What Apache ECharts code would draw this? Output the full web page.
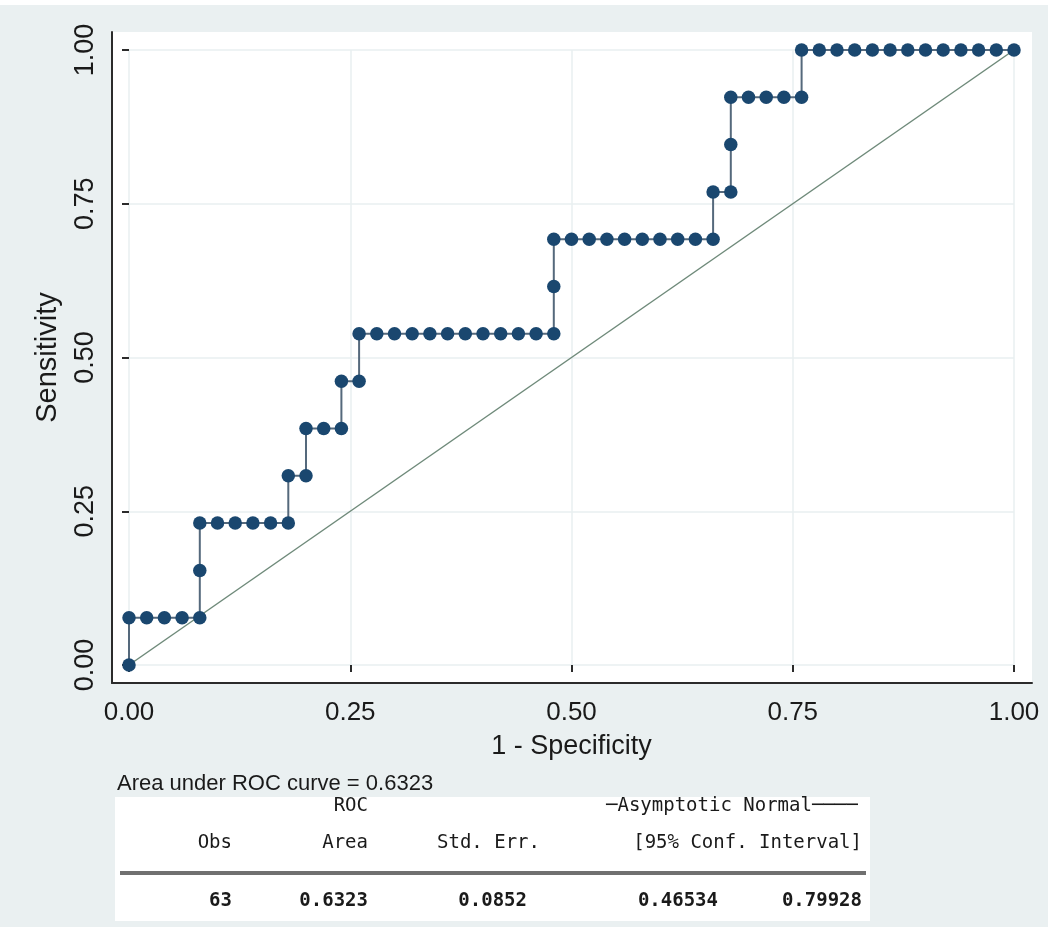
<!DOCTYPE html>
<html>
<head>
<meta charset="utf-8">
<script src="https://cdn.jsdelivr.net/npm/echarts@6/dist/echarts.min.js"></script>
<style>
  html, body { margin: 0; padding: 0; background: #eaf0f1; }
  #chart { width: 1048px; height: 927px; }
</style>
</head>
<body>
<div id="chart"></div>
<script>
// ---- data ----
const fpr = [0.00, 0.00, 0.02, 0.04, 0.06, 0.08, 0.08, 0.08, 0.10, 0.12, 0.14, 0.16, 0.18, 0.18, 0.20, 0.20,
             0.22, 0.24, 0.24, 0.26, 0.26, 0.28, 0.30, 0.32, 0.34, 0.36, 0.38, 0.40, 0.42, 0.44, 0.46, 0.48,
             0.48, 0.48, 0.50, 0.52, 0.54, 0.56, 0.58, 0.60, 0.62, 0.64, 0.66, 0.66, 0.68, 0.68, 0.68, 0.70,
             0.72, 0.74, 0.76, 0.76, 0.78, 0.80, 0.82, 0.84, 0.86, 0.88, 0.90, 0.92, 0.94, 0.96, 0.98, 1.00];
const tpr = [0.0000, 0.0769, 0.0769, 0.0769, 0.0769, 0.0769, 0.1538, 0.2308, 0.2308, 0.2308, 0.2308, 0.2308, 0.2308, 0.3077, 0.3077, 0.3846,
             0.3846, 0.3846, 0.4615, 0.4615, 0.5385, 0.5385, 0.5385, 0.5385, 0.5385, 0.5385, 0.5385, 0.5385, 0.5385, 0.5385, 0.5385, 0.5385,
             0.6154, 0.6923, 0.6923, 0.6923, 0.6923, 0.6923, 0.6923, 0.6923, 0.6923, 0.6923, 0.6923, 0.7692, 0.7692, 0.8462, 0.9231, 0.9231,
             0.9231, 0.9231, 0.9231, 1.0000, 1.0000, 1.0000, 1.0000, 1.0000, 1.0000, 1.0000, 1.0000, 1.0000, 1.0000, 1.0000, 1.0000, 1.0000];
const refX = [0, 1];
const refY = [0, 1];
const xTitle = '1 - Specificity';
const yTitle = 'Sensitivity';
const aucLabel = 'Area under ROC curve = 0.6323';
const headerTop = ['ROC', '─Asymptotic Normal────'];
const headerBottom = ['Obs', 'Area', 'Std. Err.', '[95% Conf. Interval]'];
const tableValues = ['63', '0.6323', '0.0852', '0.46534', '0.79928'];

// ---- chart ----
const chart = echarts.init(document.getElementById('chart'), null, { renderer: 'canvas' });
const SANS = '"Liberation Sans", Arial, Helvetica, sans-serif';
const MONO = '"DejaVu Sans Mono", "Liberation Mono", monospace';
const AX = '#2b2b2b';
const GRIDC = '#e9eff0';

const curve = fpr.map((x, i) => [x, tpr[i]]);
const ref = refX.map((x, i) => [x, refY[i]]);

const hdrStyle = { font: '19px ' + MONO, fill: '#1a1a1a' };
const valStyle = { font: 'bold 19px ' + MONO, fill: '#1a1a1a' };

chart.setOption({
  backgroundColor: '#eaf0f1',
  animation: false,
  grid: [
    { left: 129, right: 34, top: 50, bottom: 262 },
    { left: 112, right: 16, top: 32, bottom: 244, show: true, backgroundColor: '#ffffff', borderWidth: 0, z: 0 }
  ],
  xAxis: [
    {
      gridIndex: 0, type: 'value', min: 0, max: 1, interval: 0.25, offset: 18,
      axisLine: { show: false },
      axisTick: { show: true, length: 7, lineStyle: { color: AX, width: 2 } },
      axisLabel: { fontFamily: SANS, fontSize: 26, color: '#1a1a1a', margin: 17,
                   formatter: v => v.toFixed(2) },
      splitLine: { show: true, lineStyle: { color: GRIDC, width: 1.5 } },
      name: xTitle, nameLocation: 'middle', nameGap: 50,
      nameTextStyle: { fontFamily: SANS, fontSize: 27, color: '#1a1a1a' }
    },
    {
      gridIndex: 1, type: 'value', min: 0, max: 1,
      axisLine: { show: true, onZero: false, lineStyle: { color: AX, width: 2 } },
      axisTick: { show: false }, axisLabel: { show: false }, splitLine: { show: false }
    }
  ],
  yAxis: [
    {
      gridIndex: 0, type: 'value', min: 0, max: 1, interval: 0.25, offset: 17,
      axisLine: { show: false },
      axisTick: { show: true, length: 7, lineStyle: { color: AX, width: 2 } },
      axisLabel: { fontFamily: SANS, fontSize: 27, color: '#1a1a1a', margin: 13, rotate: 90,
                   formatter: v => v.toFixed(2) },
      splitLine: { show: true, lineStyle: { color: GRIDC, width: 1.5 } },
      name: yTitle, nameLocation: 'middle', nameGap: 50, nameRotate: 90,
      nameTextStyle: { fontFamily: SANS, fontSize: 29, color: '#1a1a1a' }
    },
    {
      gridIndex: 1, type: 'value', min: 0, max: 1,
      axisLine: { show: true, onZero: false, lineStyle: { color: AX, width: 2 } },
      axisTick: { show: false }, axisLabel: { show: false }, splitLine: { show: false }
    }
  ],
  series: [
    {
      type: 'line', xAxisIndex: 0, yAxisIndex: 0, data: ref, showSymbol: false, symbol: 'none',
      lineStyle: { color: '#6f8a7a', width: 1.5 }, z: 2
    },
    {
      type: 'line', xAxisIndex: 0, yAxisIndex: 0, data: curve,
      symbol: 'circle', symbolSize: 13.5, showAllSymbol: true,
      itemStyle: { color: '#1a476f' },
      lineStyle: { color: '#55697c', width: 2 }, z: 3
    }
  ],
  graphic: [
    { type: 'rect', left: 0, top: 0, shape: { width: 1048, height: 5 }, style: { fill: '#ffffff' }, silent: true },
    { type: 'text', left: 117, top: 773, style: { text: aucLabel, font: '22px "Liberation Sans", Arial, sans-serif', fill: '#1a1a1a' } },
    { type: 'rect', left: 115, top: 797, shape: { width: 755, height: 124 }, style: { fill: '#ffffff' }, silent: true },
    { type: 'text', x: 368, y: 806, style: Object.assign({ text: headerTop[0], align: 'right', verticalAlign: 'middle' }, hdrStyle) },
    { type: 'text', x: 606, y: 806, style: Object.assign({ text: headerTop[1], align: 'left', verticalAlign: 'middle' }, hdrStyle) },
    { type: 'text', x: 232, y: 843, style: Object.assign({ text: headerBottom[0], align: 'right', verticalAlign: 'middle' }, hdrStyle) },
    { type: 'text', x: 368, y: 843, style: Object.assign({ text: headerBottom[1], align: 'right', verticalAlign: 'middle' }, hdrStyle) },
    { type: 'text', x: 540, y: 843, style: Object.assign({ text: headerBottom[2], align: 'right', verticalAlign: 'middle' }, hdrStyle) },
    { type: 'text', x: 862, y: 843, style: Object.assign({ text: headerBottom[3], align: 'right', verticalAlign: 'middle' }, hdrStyle) },
    { type: 'line', shape: { x1: 120, y1: 873, x2: 866, y2: 873 }, style: { stroke: '#707070', lineWidth: 4 } },
    { type: 'text', x: 232, y: 901, style: Object.assign({ text: tableValues[0], align: 'right', verticalAlign: 'middle' }, valStyle) },
    { type: 'text', x: 368, y: 901, style: Object.assign({ text: tableValues[1], align: 'right', verticalAlign: 'middle' }, valStyle) },
    { type: 'text', x: 527, y: 901, style: Object.assign({ text: tableValues[2], align: 'right', verticalAlign: 'middle' }, valStyle) },
    { type: 'text', x: 718, y: 901, style: Object.assign({ text: tableValues[3], align: 'right', verticalAlign: 'middle' }, valStyle) },
    { type: 'text', x: 862, y: 901, style: Object.assign({ text: tableValues[4], align: 'right', verticalAlign: 'middle' }, valStyle) }
  ]
});
</script>
</body>
</html>
